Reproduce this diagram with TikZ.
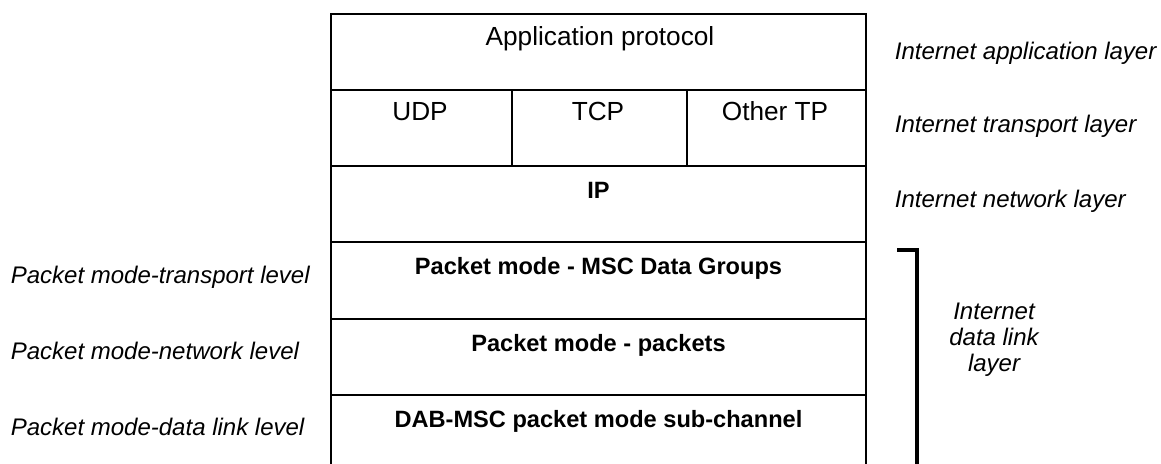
\documentclass[tikz,border=0pt]{standalone}
\usepackage{fontspec}
\setmainfont{Liberation Sans}
\usetikzlibrary{positioning}

\tikzset{
  layertext/.style={anchor=base, font=\fontsize{13.1}{15}\selectfont},
  boldtext/.style={anchor=base, font=\fontsize{11.8}{14}\selectfont\bfseries},
  sidetext/.style={anchor=base west, font=\fontsize{12}{14}\selectfont\itshape},
}

\begin{document}
\begin{tikzpicture}[x=0.5pt, y=-0.5pt, line width=1.2pt]
    \useasboundingbox (0,0) rectangle (1161,464);

    % Protocol stack frame
    \draw (331,464) -- (331,14) -- (866,14) -- (866,464);
    \foreach \y in {90,166,242,319,395}
        \draw (331,\y) -- (866,\y);
    \draw (512,90) -- (512,166);
    \draw (687,90) -- (687,166);

    % Layers
    \node[layertext] (app) at (600,46) {Application protocol};
    \node[layertext] (udp) at (420,121) {UDP};
    \node[layertext] (tcp) at (598,121) {TCP};
    \node[layertext] (othertp) at (775,121) {Other TP};
    \node[boldtext] (ip) at (598.5,199) {IP};
    \node[boldtext] (datagroups) at (598.5,275) {Packet mode - MSC Data Groups};
    \node[boldtext] (packets) at (598.5,351) {Packet mode - packets};
    \node[boldtext] (subchannel) at (598.5,427) {DAB-MSC packet mode sub-channel};

    % Internet layers
    \node[sidetext] (inetapp) at (887,60) {Internet application layer};
    \node[sidetext] (inettp) at (887,133) {Internet transport layer};
    \node[sidetext] (inetnet) at (887,208) {Internet network layer};

    % Packet mode levels
    \node[sidetext] (pmtp) at (3,284) {Packet mode-transport level};
    \node[sidetext] (pmnet) at (3,360) {Packet mode-network level};
    \node[sidetext] (pmdl) at (3,436) {Packet mode-data link level};

    % Data link bracket
    \coordinate (brtop) at (917,250);
    \coordinate (brend) at (917,470);
    \draw[line width=2pt] (897,250) -- (brtop) -- (brend);
    \node[align=center, font=\fontsize{12}{13}\selectfont\itshape] (inetdl) at (994,340)
        {Internet\\data link\\layer};
\end{tikzpicture}
\end{document}
